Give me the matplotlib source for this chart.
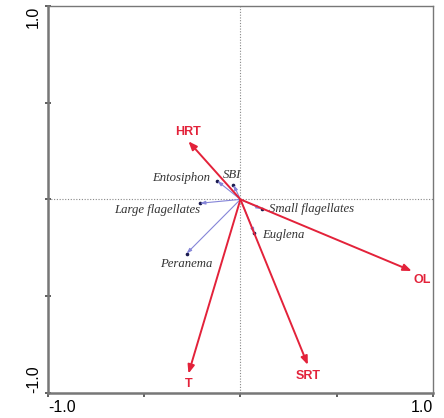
import matplotlib
matplotlib.use("Agg")
import matplotlib.pyplot as plt

# Variáveis ambientais (setas vermelhas)
env_names = ["HRT", "OL", "T", "SRT"]
env_x = [-0.27, 0.89, -0.27, 0.35]
env_y = [0.30, -0.37, -0.90, -0.855]

# Espécies (setas azuis)
sp_names = ["Entosiphon", "SBI", "Large flagellates", "Small flagellates", "Euglena", "Peranema"]
sp_x = [-0.12, -0.036, -0.21, 0.11, 0.073, -0.28]
sp_y = [0.095, 0.075, -0.02, -0.05, -0.175, -0.28]

# posição dos rótulos (offset em pixels, alinhamento)
env_off = [(0, 9, "center"), (10, -9, "center"), (0, -10, "center"), (0, -11, "center")]
sp_off = [(-7, 3, "right"), (-1, 10, "center"), (0, -7, "right"),
          (7, 0, "left"), (8, -2, "left"), (0, -10, "center")]

red = "#e3223a"
blue = "#8585d8"
gray = "#777777"

fig = plt.figure(figsize=(4.44, 4.18), dpi=100)
ax = fig.add_axes([0.108, 0.06, 0.867, 0.926])
ax.set_xlim(-1, 1)
ax.set_ylim(-1, 1)

ax.axhline(0, color="#888888", lw=0.8, ls=(0, (1, 1.5)))
ax.axvline(0, color="#888888", lw=0.8, ls=(0, (1, 1.5)))

for name, x, y, (dx, dy, ha) in zip(sp_names, sp_x, sp_y, sp_off):
    ax.annotate("", xy=(x, y), xytext=(0, 0),
                arrowprops=dict(arrowstyle="-|>,head_length=0.3,head_width=0.1",
                                color=blue, lw=0.8, shrinkA=0, shrinkB=0))
    ax.plot([x], [y], marker="o", ms=1.6, color="#1a1a50")
    ax.annotate(name, xy=(x, y), xytext=(dx, dy), textcoords="offset pixels",
                ha=ha, va="center", fontsize=9.2, family="Liberation Serif",
                style="italic", color="#333333")

for name, x, y, (dx, dy, ha) in zip(env_names, env_x, env_y, env_off):
    ax.annotate("", xy=(x, y), xytext=(0, 0),
                arrowprops=dict(arrowstyle="-|>,head_length=0.5,head_width=0.2",
                                color=red, lw=1.4, shrinkA=0, shrinkB=0))
    ax.annotate(name, xy=(x, y), xytext=(dx, dy), textcoords="offset pixels",
                ha=ha, va="center", fontsize=9, family="Liberation Sans",
                weight="bold", color=red)

for side in ["top", "right"]:
    ax.spines[side].set_color(gray)
    ax.spines[side].set_linewidth(1.0)
for side in ["left", "bottom"]:
    ax.spines[side].set_color(gray)
    ax.spines[side].set_linewidth(1.8)

ax.set_xticks([-1, -0.5, 0, 0.5, 1])
ax.set_xticklabels(["-1.0", "", "", "", "1.0"])
ax.set_yticks([-1, -0.5, 0, 0.5, 1])
ax.set_yticklabels(["-1.0", "", "", "", "1.0"], rotation=90)
ax.tick_params(axis="x", direction="out", length=3, width=1.2, color="#444444",
               labelsize=11.5, pad=2)
ax.tick_params(axis="y", direction="inout", length=4, width=1.2, color="#444444",
               labelsize=11.5, pad=3)
for lab in ax.get_xticklabels() + ax.get_yticklabels():
    lab.set_family("Liberation Sans")
xl = ax.get_xticklabels()
xl[0].set_ha("left")
xl[-1].set_ha("right")
yl = ax.get_yticklabels()
yl[0].set_va("bottom")
yl[-1].set_va("top")

fig.savefig("out.png", dpi=100)
